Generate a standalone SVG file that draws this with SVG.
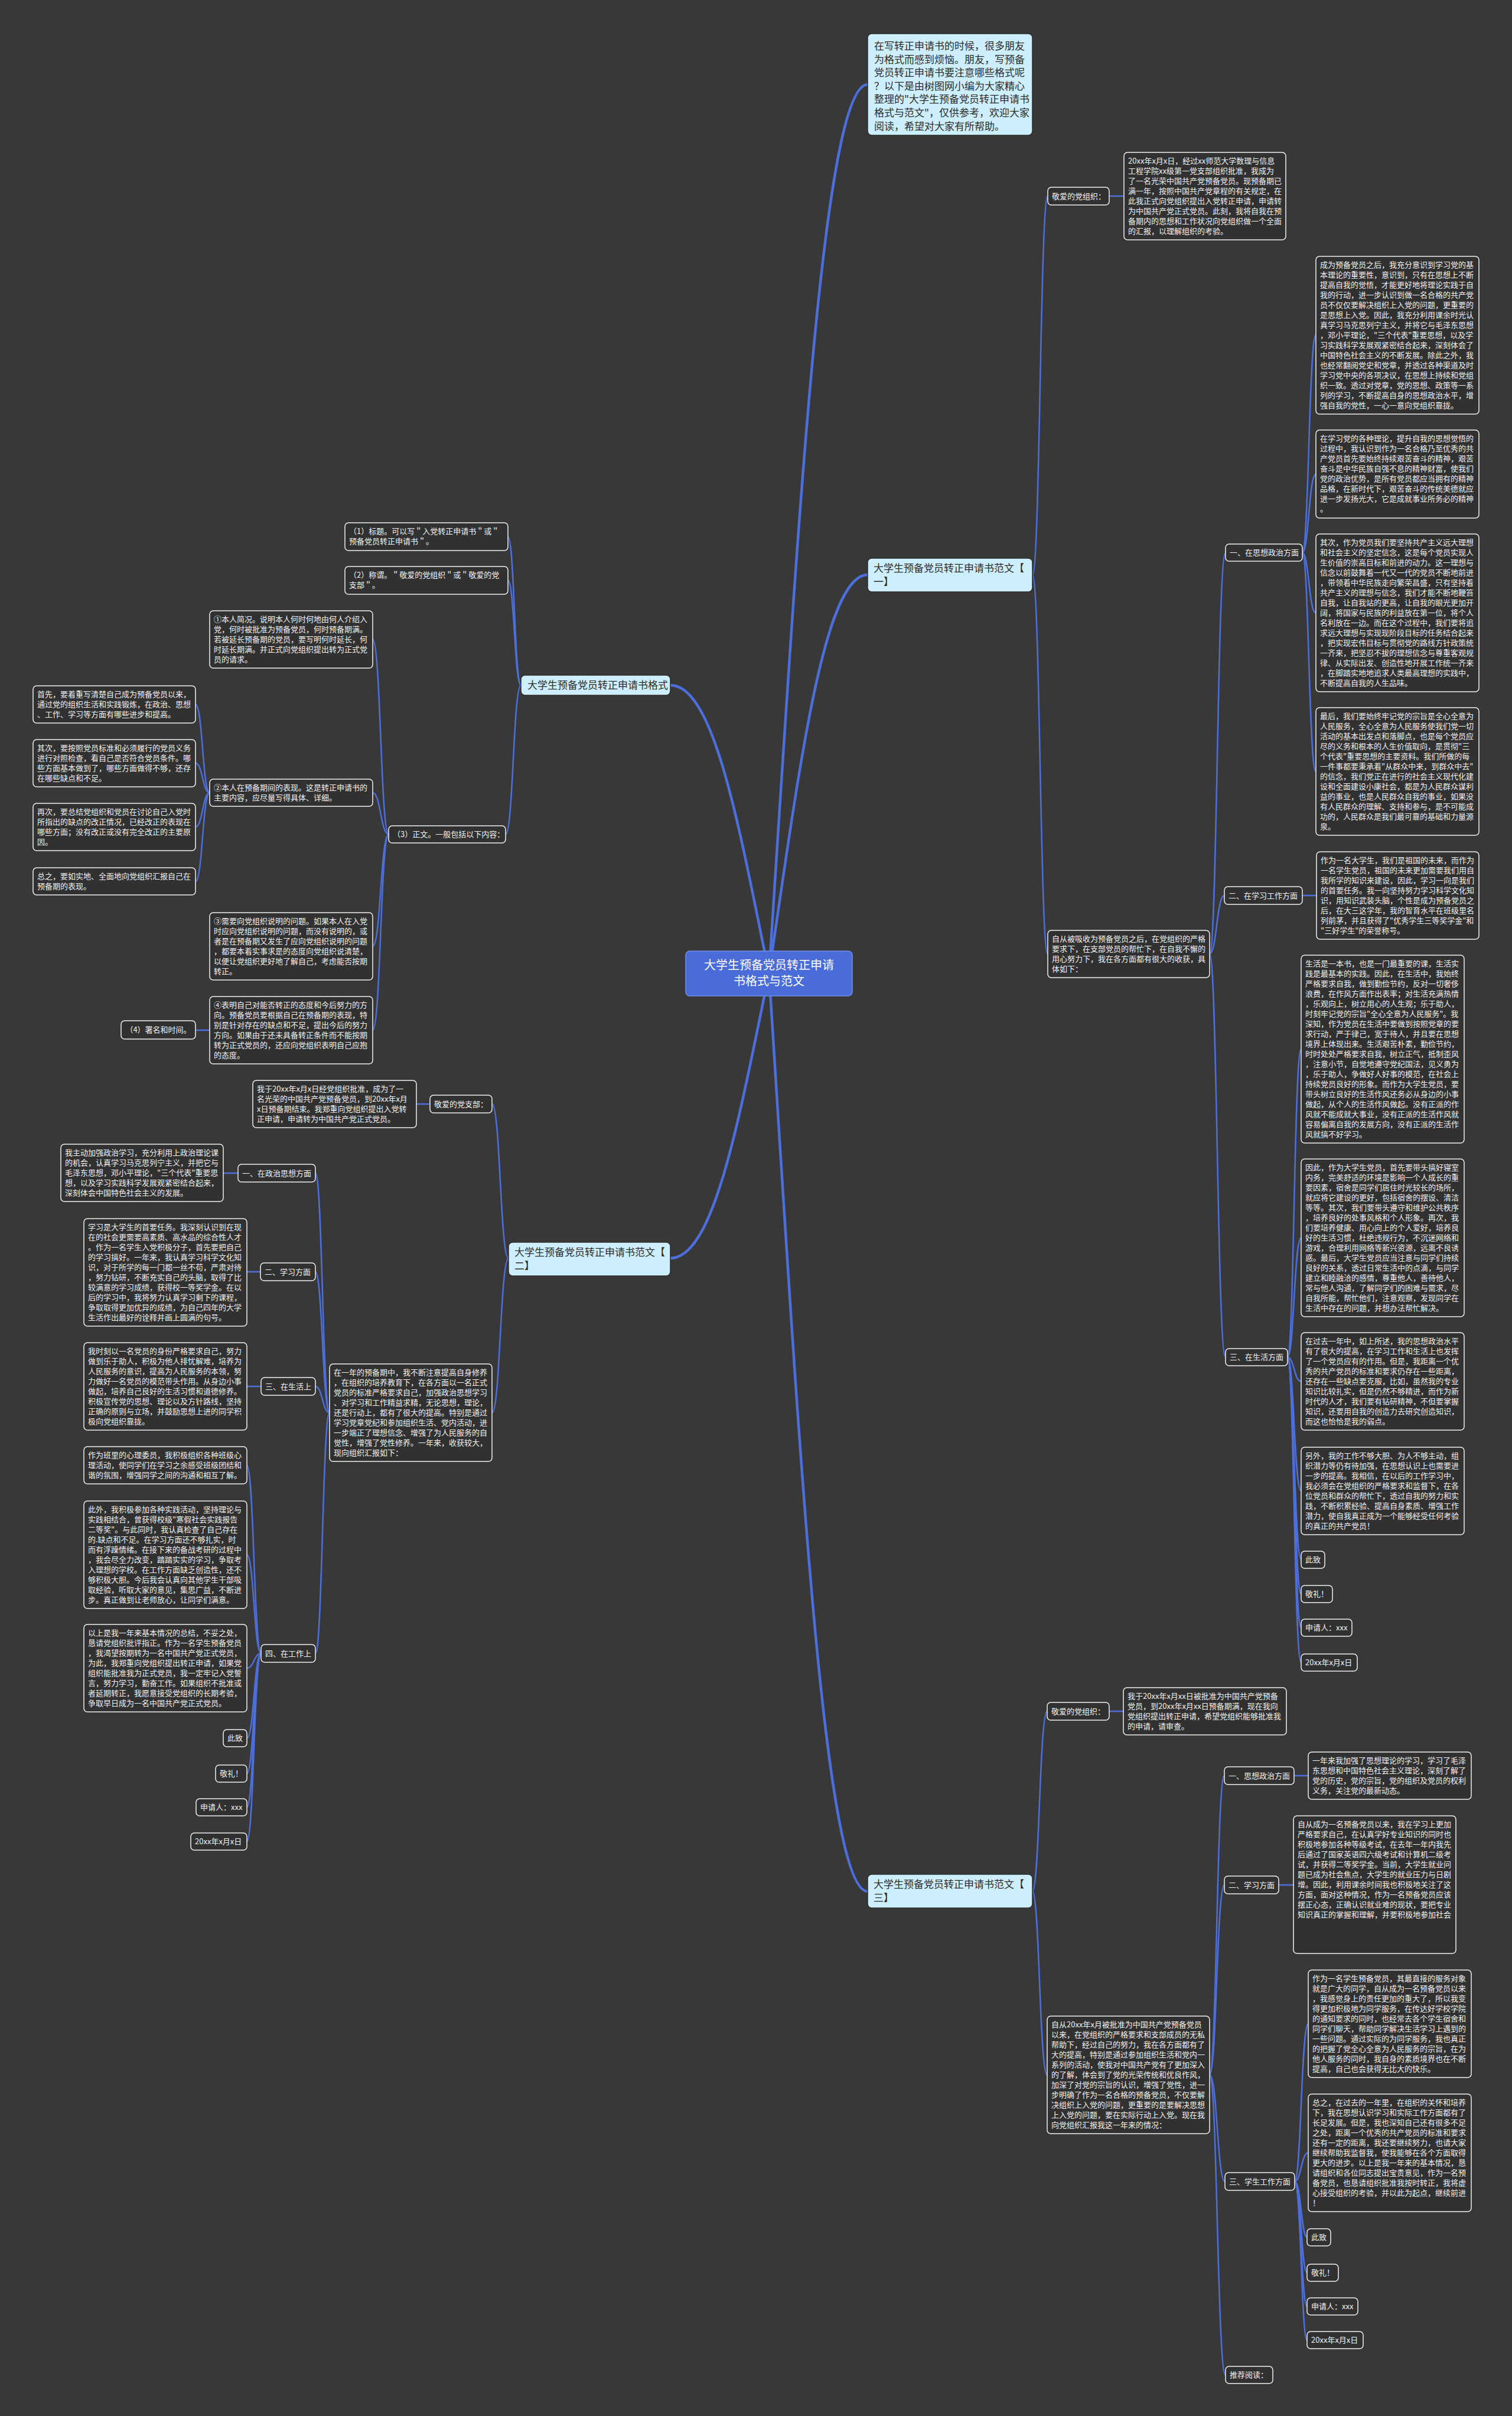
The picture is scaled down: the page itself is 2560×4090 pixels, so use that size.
<svg xmlns="http://www.w3.org/2000/svg" width="2560" height="4090" viewBox="0 0 2560 4090">
<style>
text{font-family:"Noto Sans CJK SC","Liberation Sans",sans-serif;font-size:13px;fill:#f2f2f2}
.n rect{fill:#313131;stroke:#f0f0f0;stroke-width:1.5}
.b rect{fill:#cdeffd;stroke:#2c2c2c;stroke-width:1.5}
.b text{font-size:17px;fill:#2b2b2b}
.ctr rect{fill:#4a6cd8;stroke:#6f8fe8;stroke-width:1.5}
.ctr text{font-size:20px;fill:#ffffff}
#connectors path{fill:none;stroke:#4d6fdc;stroke-width:2.5}
#connectors .m{stroke-width:4.5}
.ce{text-anchor:middle}
</style>
<rect x="0" y="0" width="2560" height="4090" fill="#383838"/>
<g id="connectors">
<path class="m" d="M1302 1648 C1351 896 1393 143 1469 143"/>
<path class="m" d="M1302 1648 C1352 1310 1394 973 1469 973"/>
<path class="m" d="M1302 1648 C1352 2425 1394 3202 1469 3202"/>
<path class="m" d="M1302 1648 C1252 1404 1210 1160 1135 1160"/>
<path class="m" d="M1302 1648 C1252 1889 1210 2130 1135 2130"/>
<path d="M1748 973.5 C1761 973.5 1761 332 1774 332"/>
<path d="M1748 973.5 C1761 973.5 1761 1615 1774 1615"/>
<path d="M1878 332 L1903 332"/>
<path d="M2048 1615 C2061 1615 2061 935.5 2075 935.5"/>
<path d="M2048 1615 C2060 1615 2060 1516 2073 1516"/>
<path d="M2048 1615 C2061 1615 2061 2297.5 2075 2297.5"/>
<path d="M2205 935.5 C2216 935.5 2216 567.5 2228 567.5"/>
<path d="M2205 935.5 C2216 935.5 2216 802.5 2228 802.5"/>
<path d="M2205 935.5 C2216 935.5 2216 1037.5 2228 1037.5"/>
<path d="M2205 935.5 C2216 935.5 2216 1306 2228 1306"/>
<path d="M2205 1516 L2229 1516"/>
<path d="M2180 2297.5 C2191 2297.5 2191 1776 2203 1776"/>
<path d="M2180 2297.5 C2191 2297.5 2191 2095.5 2203 2095.5"/>
<path d="M2180 2297.5 C2191 2297.5 2191 2338.5 2203 2338.5"/>
<path d="M2180 2297.5 C2191 2297.5 2191 2524 2203 2524"/>
<path d="M2180 2297.5 C2191 2297.5 2191 2640.5 2203 2640.5"/>
<path d="M2180 2297.5 C2191 2297.5 2191 2698.5 2203 2698.5"/>
<path d="M2180 2297.5 C2191 2297.5 2191 2755.5 2203 2755.5"/>
<path d="M2180 2297.5 C2191 2297.5 2191 2814.5 2203 2814.5"/>
<path d="M1748 3201.5 C1760 3201.5 1760 2897 1773 2897"/>
<path d="M1748 3201.5 C1760 3201.5 1760 3512.5 1773 3512.5"/>
<path d="M1878 2897 L1902 2897"/>
<path d="M2048 3512.5 C2060 3512.5 2060 3006 2073 3006"/>
<path d="M2048 3512.5 C2060 3512.5 2060 3191 2073 3191"/>
<path d="M2048 3512.5 C2061 3512.5 2061 3693 2074 3693"/>
<path d="M2048 3512.5 C2061 3512.5 2061 4020.5 2075 4020.5"/>
<path d="M2191 3006 L2215 3006"/>
<path d="M2165 3191 L2190 3191"/>
<path d="M2192 3693 C2203 3693 2203 3426 2215 3426"/>
<path d="M2192 3693 C2203 3693 2203 3644.5 2215 3644.5"/>
<path d="M2192 3693 C2203 3693 2203 3787.5 2213 3787.5"/>
<path d="M2192 3693 C2203 3693 2203 3847.5 2213 3847.5"/>
<path d="M2192 3693 C2203 3693 2203 3904.5 2213 3904.5"/>
<path d="M2192 3693 C2203 3693 2203 3961.5 2213 3961.5"/>
<path d="M882 1160 C871 1160 871 908.5 860 908.5"/>
<path d="M882 1160 C871 1160 871 982.5 860 982.5"/>
<path d="M882 1160 C869 1160 869 1412.5 856 1412.5"/>
<path d="M658 1412.5 C644.5 1412.5 644.5 1082.5 631 1082.5"/>
<path d="M658 1412.5 C644.5 1412.5 644.5 1342 631 1342"/>
<path d="M658 1412.5 C644.5 1412.5 644.5 1602 631 1602"/>
<path d="M658 1412.5 C644.5 1412.5 644.5 1744 631 1744"/>
<path d="M355 1342 C343 1342 343 1192.5 331 1192.5"/>
<path d="M355 1342 C343 1342 343 1292 331 1292"/>
<path d="M355 1342 C343 1342 343 1400 331 1400"/>
<path d="M355 1342 C343 1342 343 1492 331 1492"/>
<path d="M355 1744 L331 1744"/>
<path d="M861 2130.5 C847 2130.5 847 1869 833 1869"/>
<path d="M861 2130.5 C847 2130.5 847 2391.5 833 2391.5"/>
<path d="M728 1869 L705 1869"/>
<path d="M558 2391.5 C546 2391.5 546 1986 534 1986"/>
<path d="M558 2391.5 C546 2391.5 546 2153 534 2153"/>
<path d="M558 2391.5 C546 2391.5 546 2347 534 2347"/>
<path d="M558 2391.5 C546 2391.5 546 2799 534 2799"/>
<path d="M403 1986 L378 1986"/>
<path d="M441 2153 L418 2153"/>
<path d="M442 2347 L418 2347"/>
<path d="M442 2799 C430 2799 430 2480.5 418 2480.5"/>
<path d="M442 2799 C430 2799 430 2632 418 2632"/>
<path d="M442 2799 C430 2799 430 2824 418 2824"/>
<path d="M442 2799 C430 2799 430 2942.5 418 2942.5"/>
<path d="M442 2799 C430 2799 430 3002.5 418 3002.5"/>
<path d="M442 2799 C430 2799 430 3059.5 418 3059.5"/>
<path d="M442 2799 C430 2799 430 3117.5 418 3117.5"/>
</g>

<g id="center" class="ctr"><rect x="1161" y="1610" width="282" height="76" rx="7"/><text class="ce" x="1302" y="1641">大学生预备党员转正申请</text><text class="ce" x="1302" y="1668">书格式与范文</text></g>

<g id="intro" class="b"><rect x="1469" y="57" width="279" height="172" rx="7"/><text x="1480" y="84"><tspan x="1480" dy="0">在写转正申请书的时候，很多朋友</tspan><tspan x="1480" dy="22.6">为格式而感到烦恼。朋友，写预备</tspan><tspan x="1480" dy="22.6">党员转正申请书要注意哪些格式呢</tspan><tspan x="1480" dy="22.6">？以下是由树图网小编为大家精心</tspan><tspan x="1480" dy="22.6">整理的"大学生预备党员转正申请书</tspan><tspan x="1480" dy="22.6">格式与范文"，仅供参考，欢迎大家</tspan><tspan x="1480" dy="22.6">阅读，希望对大家有所帮助。</tspan></text></g>

<g id="branch1" class="b"><rect x="1469" y="945" width="279" height="57" rx="7"/><text x="1479" y="968"><tspan x="1479" dy="0">大学生预备党员转正申请书范文【</tspan><tspan x="1479" dy="23">一】</tspan></text></g>
<g id="branch3" class="b"><rect x="1469" y="3173" width="279" height="57" rx="7"/><text x="1479" y="3196"><tspan x="1479" dy="0">大学生预备党员转正申请书范文【</tspan><tspan x="1479" dy="23">三】</tspan></text></g>
<g id="branchFormat" class="b"><rect x="882" y="1143" width="253" height="34" rx="7"/><text x="893" y="1166">大学生预备党员转正申请书格式</text></g>
<g id="branch2" class="b"><rect x="861" y="2103" width="274" height="57" rx="7"/><text x="871" y="2126"><tspan x="871" dy="0">大学生预备党员转正申请书范文【</tspan><tspan x="871" dy="23">二】</tspan></text></g>

<!-- Section 1 -->
<g id="s1-dear" class="n"><rect x="1774" y="317" width="104" height="30" rx="6"/><text x="1781" y="336.5">敬爱的党组织：</text></g>
<g id="s1-dear-text" class="n"><rect x="1903" y="258" width="274" height="148" rx="6"/><text x="1910" y="277"><tspan x="1910" dy="0">20xx年x月x日，经过xx师范大学数理与信息</tspan><tspan x="1910" dy="17">工程学院xx级第一党支部组织批准，我成为</tspan><tspan x="1910" dy="17">了一名光荣中国共产党预备党员。现预备期已</tspan><tspan x="1910" dy="17">满一年，按照中国共产党章程的有关规定，在</tspan><tspan x="1910" dy="17">此我正式向党组织提出入党转正申请，申请转</tspan><tspan x="1910" dy="17">为中国共产党正式党员。此刻，我将自我在预</tspan><tspan x="1910" dy="17">备期内的思想和工作状况向党组织做一个全面</tspan><tspan x="1910" dy="17">的汇报，以理解组织的考验。</tspan></text></g>
<g id="s1-since" class="n"><rect x="1774" y="1575" width="274" height="80" rx="6"/><text x="1781" y="1594"><tspan x="1781" dy="0">自从被吸收为预备党员之后，在党组织的严格</tspan><tspan x="1781" dy="17">要求下，在支部党员的帮忙下，在自我不懈的</tspan><tspan x="1781" dy="17">用心努力下，我在各方面都有很大的收获，具</tspan><tspan x="1781" dy="17">体如下：</tspan></text></g>
<g id="s1-p1" class="n"><rect x="2075" y="921" width="130" height="29" rx="6"/><text x="2082" y="940">一、在思想政治方面</text></g>
<g id="s1-a" class="n"><rect x="2228" y="434" width="276" height="267" rx="6"/><text x="2235" y="453"><tspan x="2235" dy="0">成为预备党员之后，我充分意识到学习党的基</tspan><tspan x="2235" dy="17">本理论的重要性，意识到，只有在思想上不断</tspan><tspan x="2235" dy="17">提高自我的觉悟，才能更好地将理论实践于自</tspan><tspan x="2235" dy="17">我的行动，进一步认识到做一名合格的共产党</tspan><tspan x="2235" dy="17">员不仅仅要解决组织上入党的问题，更重要的</tspan><tspan x="2235" dy="17">是思想上入党。因此，我充分利用课余时光认</tspan><tspan x="2235" dy="17">真学习马克思列宁主义，并将它与毛泽东思想</tspan><tspan x="2235" dy="17">，邓小平理论，"三个代表"重要思想，以及学</tspan><tspan x="2235" dy="17">习实践科学发展观紧密结合起来，深刻体会了</tspan><tspan x="2235" dy="17">中国特色社会主义的不断发展。除此之外，我</tspan><tspan x="2235" dy="17">也经常翻阅党史和党章，并透过各种渠道及时</tspan><tspan x="2235" dy="17">学习党中央的各项决议，在思想上持续和党组</tspan><tspan x="2235" dy="17">织一致。透过对党章，党的思想、政策等一系</tspan><tspan x="2235" dy="17">列的学习，不断提高自身的思想政治水平，增</tspan><tspan x="2235" dy="17">强自我的党性，一心一意向党组织靠拢。</tspan></text></g>
<g id="s1-b" class="n"><rect x="2228" y="728" width="276" height="149" rx="6"/><text x="2235" y="747"><tspan x="2235" dy="0">在学习党的各种理论，提升自我的思想觉悟的</tspan><tspan x="2235" dy="17">过程中，我认识到作为一名合格乃至优秀的共</tspan><tspan x="2235" dy="17">产党员首先要始终持续艰苦奋斗的精神，艰苦</tspan><tspan x="2235" dy="17">奋斗是中华民族自强不息的精神财富，使我们</tspan><tspan x="2235" dy="17">党的政治优势，是所有党员都应当拥有的精神</tspan><tspan x="2235" dy="17">品格，在新时代下，艰苦奋斗的传统美德就应</tspan><tspan x="2235" dy="17">进一步发扬光大，它是成就事业所务必的精神</tspan><tspan x="2235" dy="17">。</tspan></text></g>
<g id="s1-c" class="n"><rect x="2228" y="904" width="276" height="267" rx="6"/><text x="2235" y="923"><tspan x="2235" dy="0">其次，作为党员我们要坚持共产主义远大理想</tspan><tspan x="2235" dy="17">和社会主义的坚定信念，这是每个党员实现人</tspan><tspan x="2235" dy="17">生价值的崇高目标和前进的动力。这一理想与</tspan><tspan x="2235" dy="17">信念以前鼓舞着一代又一代的党员不断地前进</tspan><tspan x="2235" dy="17">，带领着中华民族走向繁荣昌盛，只有坚持着</tspan><tspan x="2235" dy="17">共产主义的理想与信念，我们才能不断地鞭笞</tspan><tspan x="2235" dy="17">自我，让自我站的更高，让自我的眼光更加开</tspan><tspan x="2235" dy="17">阔，将国家与民族的利益放在第一位，将个人</tspan><tspan x="2235" dy="17">名利放在一边。而在这个过程中，我们要将追</tspan><tspan x="2235" dy="17">求远大理想与实现现阶段目标的任务结合起来</tspan><tspan x="2235" dy="17">，把实现宏伟目标与贯彻党的路线方针政策统</tspan><tspan x="2235" dy="17">一齐来，把坚忍不拔的理想信念与尊重客观规</tspan><tspan x="2235" dy="17">律、从实际出发、创造性地开展工作统一齐来</tspan><tspan x="2235" dy="17">，在脚踏实地地追求人类最高理想的实践中，</tspan><tspan x="2235" dy="17">不断提高自我的人生品味。</tspan></text></g>
<g id="s1-d" class="n"><rect x="2228" y="1198" width="276" height="216" rx="6"/><text x="2235" y="1217"><tspan x="2235" dy="0">最后，我们要始终牢记党的宗旨是全心全意为</tspan><tspan x="2235" dy="17">人民服务，全心全意为人民服务使我们党一切</tspan><tspan x="2235" dy="17">活动的基本出发点和落脚点，也是每个党员应</tspan><tspan x="2235" dy="17">尽的义务和根本的人生价值取向，是贯彻"三</tspan><tspan x="2235" dy="17">个代表"重要思想的主要资料。我们所做的每</tspan><tspan x="2235" dy="17">一件事都要秉承着"从群众中来，到群众中去"</tspan><tspan x="2235" dy="17">的信念，我们党正在进行的社会主义现代化建</tspan><tspan x="2235" dy="17">设和全面建设小康社会，都是为人民群众谋利</tspan><tspan x="2235" dy="17">益的事业，也是人民群众自我的事业，如果没</tspan><tspan x="2235" dy="17">有人民群众的理解、支持和参与，是不可能成</tspan><tspan x="2235" dy="17">功的，人民群众是我们最可靠的基础和力量源</tspan><tspan x="2235" dy="17">泉。</tspan></text></g>
<g id="s1-p2" class="n"><rect x="2073" y="1501" width="132" height="30" rx="6"/><text x="2080" y="1520.5">二、在学习工作方面</text></g>
<g id="s1-study" class="n"><rect x="2229" y="1442" width="275" height="148" rx="6"/><text x="2236" y="1461"><tspan x="2236" dy="0">作为一名大学生，我们是祖国的未来，而作为</tspan><tspan x="2236" dy="17">一名学生党员，祖国的未来更加需要我们用自</tspan><tspan x="2236" dy="17">我所学的知识来建设，因此，学习一向是我们</tspan><tspan x="2236" dy="17">的首要任务。我一向坚持努力学习科学文化知</tspan><tspan x="2236" dy="17">识，用知识武装头脑，个性是成为预备党员之</tspan><tspan x="2236" dy="17">后，在大三这学年，我的智育水平在班级里名</tspan><tspan x="2236" dy="17">列前茅，并且获得了"优秀学生三等奖学金"和</tspan><tspan x="2236" dy="17">"三好学生"的荣誉称号。</tspan></text></g>
<g id="s1-p3" class="n"><rect x="2075" y="2283" width="105" height="29" rx="6"/><text x="2082" y="2302">三、在生活方面</text></g>
<g id="s1-f" class="n"><rect x="2203" y="1617" width="276" height="318" rx="6"/><text x="2210" y="1636"><tspan x="2210" dy="0">生活是一本书，也是一门最重要的课，生活实</tspan><tspan x="2210" dy="17">践是最基本的实践。因此，在生活中，我始终</tspan><tspan x="2210" dy="17">严格要求自我，做到勤俭节约，反对一切奢侈</tspan><tspan x="2210" dy="17">浪费，在作风方面作出表率；对生活充满热情</tspan><tspan x="2210" dy="17">，乐观向上，树立用心的人生观；乐于助人，</tspan><tspan x="2210" dy="17">时刻牢记党的宗旨"全心全意为人民服务"。我</tspan><tspan x="2210" dy="17">深知，作为党员在生活中要做到按照党章的要</tspan><tspan x="2210" dy="17">求行动，严于律己，宽于待人，并且要在思想</tspan><tspan x="2210" dy="17">境界上体现出来。生活艰苦朴素，勤俭节约，</tspan><tspan x="2210" dy="17">时时处处严格要求自我，树立正气，抵制歪风</tspan><tspan x="2210" dy="17">，注意小节，自觉地遵守党纪国法，见义勇为</tspan><tspan x="2210" dy="17">，乐于助人，争做好人好事的模范，在社会上</tspan><tspan x="2210" dy="17">持续党员良好的形象。而作为大学生党员，要</tspan><tspan x="2210" dy="17">带头树立良好的生活作风还务必从身边的小事</tspan><tspan x="2210" dy="17">做起，从个人的生活作风做起。没有正派的作</tspan><tspan x="2210" dy="17">风就不能成就大事业，没有正派的生活作风就</tspan><tspan x="2210" dy="17">容易偏离自我的发展方向，没有正派的生活作</tspan><tspan x="2210" dy="17">风就搞不好学习。</tspan></text></g>
<g id="s1-g" class="n"><rect x="2203" y="1962" width="276" height="267" rx="6"/><text x="2210" y="1981"><tspan x="2210" dy="0">因此，作为大学生党员，首先要带头搞好寝室</tspan><tspan x="2210" dy="17">内务，完美舒适的环境是影响一个人成长的重</tspan><tspan x="2210" dy="17">要因素，宿舍是同学们居住时光较长的场所，</tspan><tspan x="2210" dy="17">就应将它建设的更好，包括宿舍的摆设、清洁</tspan><tspan x="2210" dy="17">等等。其次，我们要带头遵守和维护公共秩序</tspan><tspan x="2210" dy="17">，培养良好的处事风格和个人形象。再次，我</tspan><tspan x="2210" dy="17">们要培养健康、用心向上的个人爱好，培养良</tspan><tspan x="2210" dy="17">好的生活习惯，杜绝违规行为，不沉迷网络和</tspan><tspan x="2210" dy="17">游戏，合理利用网络等新兴资源，远离不良诱</tspan><tspan x="2210" dy="17">惑。最后，大学生党员应当注意与同学们持续</tspan><tspan x="2210" dy="17">良好的关系，透过日常生活中的点滴，与同学</tspan><tspan x="2210" dy="17">建立和睦融洽的感情，尊重他人，善待他人，</tspan><tspan x="2210" dy="17">常与他人沟通，了解同学们的困难与需求，尽</tspan><tspan x="2210" dy="17">自我所能，帮忙他们，注意观察，发现同学在</tspan><tspan x="2210" dy="17">生活中存在的问题，并想办法帮忙解决。</tspan></text></g>
<g id="s1-h" class="n"><rect x="2203" y="2256" width="276" height="165" rx="6"/><text x="2210" y="2275"><tspan x="2210" dy="0">在过去一年中，如上所述，我的思想政治水平</tspan><tspan x="2210" dy="17">有了很大的提高，在学习工作和生活上也发挥</tspan><tspan x="2210" dy="17">了一个党员应有的作用。但是，我距离一个优</tspan><tspan x="2210" dy="17">秀的共产党员的标准和要求仍存在一些距离，</tspan><tspan x="2210" dy="17">还存在一些缺点要克服，比如，虽然我的专业</tspan><tspan x="2210" dy="17">知识比较扎实，但是仍然不够精进，而作为新</tspan><tspan x="2210" dy="17">时代的人才，我们要有钻研精神，不但要掌握</tspan><tspan x="2210" dy="17">知识，还要用自我的创造力去研究创造知识，</tspan><tspan x="2210" dy="17">而这也恰恰是我的弱点。</tspan></text></g>
<g id="s1-i" class="n"><rect x="2203" y="2450" width="276" height="148" rx="6"/><text x="2210" y="2469"><tspan x="2210" dy="0">另外，我的工作不够大胆、为人不够主动，组</tspan><tspan x="2210" dy="17">织潜力等仍有待加强，在思想认识上也需要进</tspan><tspan x="2210" dy="17">一步的提高。我相信，在以后的工作学习中，</tspan><tspan x="2210" dy="17">我必须会在党组织的严格要求和监督下，在各</tspan><tspan x="2210" dy="17">位党员和群众的帮忙下，透过自我的努力和实</tspan><tspan x="2210" dy="17">践，不断积累经验、提高自身素质、增强工作</tspan><tspan x="2210" dy="17">潜力，使自我真正成为一个能够经受任何考验</tspan><tspan x="2210" dy="17">的真正的共产党员！</tspan></text></g>
<g id="s1-cz" class="n"><rect x="2203" y="2626" width="40" height="29" rx="6"/><text x="2210" y="2645">此致</text></g>
<g id="s1-jl" class="n"><rect x="2203" y="2684" width="53" height="29" rx="6"/><text x="2210" y="2703">敬礼！</text></g>
<g id="s1-sqr" class="n"><rect x="2203" y="2741" width="86" height="29" rx="6"/><text x="2210" y="2760">申请人：xxx</text></g>
<g id="s1-date" class="n"><rect x="2203" y="2800" width="95" height="29" rx="6"/><text x="2210" y="2819">20xx年x月x日</text></g>

<!-- Section 3 -->
<g id="s3-dear" class="n"><rect x="1773" y="2882" width="105" height="30" rx="6"/><text x="1780" y="2901.5">敬爱的党组织：</text></g>
<g id="s3-dear-text" class="n"><rect x="1902" y="2857" width="276" height="80" rx="6"/><text x="1909" y="2876"><tspan x="1909" dy="0">我于20xx年x月xx日被批准为中国共产党预备</tspan><tspan x="1909" dy="17">党员，到20xx年x月xx日预备期满，现在我向</tspan><tspan x="1909" dy="17">党组织提出转正申请，希望党组织能够批准我</tspan><tspan x="1909" dy="17">的申请，请审查。</tspan></text></g>
<g id="s3-since" class="n"><rect x="1773" y="3413" width="275" height="199" rx="6"/><text x="1780" y="3432"><tspan x="1780" dy="0">自从20xx年x月被批准为中国共产党预备党员</tspan><tspan x="1780" dy="17">以来，在党组织的严格要求和支部成员的无私</tspan><tspan x="1780" dy="17">帮助下，经过自己的努力，我在各方面都有了</tspan><tspan x="1780" dy="17">大的提高，特别是通过参加组织生活和党内一</tspan><tspan x="1780" dy="17">系列的活动，使我对中国共产党有了更加深入</tspan><tspan x="1780" dy="17">的了解，体会到了党的光荣传统和优良作风，</tspan><tspan x="1780" dy="17">加深了对党的宗旨的认识，增强了党性，进一</tspan><tspan x="1780" dy="17">步明确了作为一名合格的预备党员，不仅要解</tspan><tspan x="1780" dy="17">决组织上入党的问题，更重要的是要解决思想</tspan><tspan x="1780" dy="17">上入党的问题，要在实际行动上入党。现在我</tspan><tspan x="1780" dy="17">向党组织汇报我这一年来的情况：</tspan></text></g>
<g id="s3-p1" class="n"><rect x="2073" y="2991" width="118" height="30" rx="6"/><text x="2080" y="3010.5">一、思想政治方面</text></g>
<g id="s3-p1-text" class="n"><rect x="2215" y="2966" width="276" height="80" rx="6"/><text x="2222" y="2985"><tspan x="2222" dy="0">一年来我加强了思想理论的学习，学习了毛泽</tspan><tspan x="2222" dy="17">东思想和中国特色社会主义理论，深刻了解了</tspan><tspan x="2222" dy="17">党的历史，党的宗旨，党的组织及党员的权利</tspan><tspan x="2222" dy="17">义务，关注党的最新动态。</tspan></text></g>
<g id="s3-p2" class="n"><rect x="2073" y="3176" width="92" height="30" rx="6"/><text x="2080" y="3195.5">二、学习方面</text></g>
<g id="s3-p2-text" class="n"><rect x="2190" y="3074" width="275" height="233" rx="6"/><text x="2197" y="3093"><tspan x="2197" dy="0">自从成为一名预备党员以来，我在学习上更加</tspan><tspan x="2197" dy="17">严格要求自己，在认真学好专业知识的同时也</tspan><tspan x="2197" dy="17">积极地参加各种等级考试，在去年一年内我先</tspan><tspan x="2197" dy="17">后通过了国家英语四六级考试和计算机二级考</tspan><tspan x="2197" dy="17">试，并获得二等奖学金。当前，大学生就业问</tspan><tspan x="2197" dy="17">题已成为社会焦点，大学生的就业压力与日剧</tspan><tspan x="2197" dy="17">增。因此，利用课余时间我也积极地关注了这</tspan><tspan x="2197" dy="17">方面，面对这种情况，作为一名预备党员应该</tspan><tspan x="2197" dy="17">摆正心态，正确认识就业难的现状，要把专业</tspan><tspan x="2197" dy="17">知识真正的掌握和理解，并要积极地参加社会</tspan></text></g>
<g id="s3-p3" class="n"><rect x="2074" y="3678" width="118" height="30" rx="6"/><text x="2081" y="3697.5">三、学生工作方面</text></g>
<g id="s3-serve" class="n"><rect x="2215" y="3335" width="276" height="182" rx="6"/><text x="2222" y="3354"><tspan x="2222" dy="0">作为一名学生预备党员，其最直接的服务对象</tspan><tspan x="2222" dy="17">就是广大的同学，自从成为一名预备党员以来</tspan><tspan x="2222" dy="17">，我感觉身上的责任更加的重大了，所以我变</tspan><tspan x="2222" dy="17">得更加积极地为同学服务，在传达好学校学院</tspan><tspan x="2222" dy="17">的通知要求的同时，也经常去各个学生宿舍和</tspan><tspan x="2222" dy="17">同学们聊天，帮助同学解决生活学习上遇到的</tspan><tspan x="2222" dy="17">一些问题。通过实际的为同学服务，我也真正</tspan><tspan x="2222" dy="17">的把握了党全心全意为人民服务的宗旨，在为</tspan><tspan x="2222" dy="17">他人服务的同时，我自身的素质境界也在不断</tspan><tspan x="2222" dy="17">提高，自己也会获得无比大的快乐。</tspan></text></g>
<g id="s3-sum" class="n"><rect x="2215" y="3545" width="276" height="199" rx="6"/><text x="2222" y="3564"><tspan x="2222" dy="0">总之，在过去的一年里，在组织的关怀和培养</tspan><tspan x="2222" dy="17">下，我在思想认识学习和实际工作方面都有了</tspan><tspan x="2222" dy="17">长足发展。但是，我也深知自己还有很多不足</tspan><tspan x="2222" dy="17">之处，距离一个优秀的共产党员的标准和要求</tspan><tspan x="2222" dy="17">还有一定的距离，我还要继续努力，也请大家</tspan><tspan x="2222" dy="17">继续帮助我监督我，使我能够在各个方面取得</tspan><tspan x="2222" dy="17">更大的进步。以上是我一年来的基本情况，恳</tspan><tspan x="2222" dy="17">请组织和各位同志提出宝贵意见，作为一名预</tspan><tspan x="2222" dy="17">备党员，也恳请组织批准我按时转正，我将虚</tspan><tspan x="2222" dy="17">心接受组织的考验，并以此为起点，继续前进</tspan><tspan x="2222" dy="17">！</tspan></text></g>
<g id="s3-cz" class="n"><rect x="2213" y="3773" width="40" height="29" rx="6"/><text x="2220" y="3792">此致</text></g>
<g id="s3-jl" class="n"><rect x="2213" y="3833" width="53" height="29" rx="6"/><text x="2220" y="3852">敬礼！</text></g>
<g id="s3-sqr" class="n"><rect x="2213" y="3890" width="86" height="29" rx="6"/><text x="2220" y="3909">申请人：xxx</text></g>
<g id="s3-date" class="n"><rect x="2213" y="3947" width="95" height="29" rx="6"/><text x="2220" y="3966">20xx年x月x日</text></g>
<g id="s3-more" class="n"><rect x="2075" y="4006" width="80" height="29" rx="6"/><text x="2082" y="4025">推荐阅读：</text></g>

<!-- Format branch -->
<g id="f-1" class="n"><rect x="584" y="885" width="276" height="47" rx="6"/><text x="591" y="904"><tspan x="591" dy="0">（1）标题。可以写＂入党转正申请书＂或＂</tspan><tspan x="591" dy="17">预备党员转正申请书＂。</tspan></text></g>
<g id="f-2" class="n"><rect x="584" y="959" width="276" height="47" rx="6"/><text x="591" y="978"><tspan x="591" dy="0">（2）称谓。＂敬爱的党组织＂或＂敬爱的党</tspan><tspan x="591" dy="17">支部＂。</tspan></text></g>
<g id="f-3" class="n"><rect x="658" y="1398" width="198" height="29" rx="6"/><text x="665" y="1417">（3）正文。一般包括以下内容：</text></g>
<g id="f-3a" class="n"><rect x="355" y="1034" width="276" height="97" rx="6"/><text x="362" y="1053"><tspan x="362" dy="0">①本人简况。说明本人何时何地由何人介绍入</tspan><tspan x="362" dy="17">党，何时被批准为预备党员，何时预备期满。</tspan><tspan x="362" dy="17">若被延长预备期的党员，要写明何时延长，何</tspan><tspan x="362" dy="17">时延长期满。并正式向党组织提出转为正式党</tspan><tspan x="362" dy="17">员的请求。</tspan></text></g>
<g id="f-3b" class="n"><rect x="355" y="1319" width="276" height="46" rx="6"/><text x="362" y="1338"><tspan x="362" dy="0">②本人在预备期间的表现。这是转正申请书的</tspan><tspan x="362" dy="17">主要内容，应尽量写得具体、详细。</tspan></text></g>
<g id="f-3c" class="n"><rect x="355" y="1545" width="276" height="114" rx="6"/><text x="362" y="1564"><tspan x="362" dy="0">③需要向党组织说明的问题。如果本人在入党</tspan><tspan x="362" dy="17">时应向党组织说明的问题，而没有说明的，或</tspan><tspan x="362" dy="17">者是在预备期又发生了应向党组织说明的问题</tspan><tspan x="362" dy="17">，都要本着实事求是的态度向党组织说清楚，</tspan><tspan x="362" dy="17">以便让党组织更好地了解自己，考虑能否按期</tspan><tspan x="362" dy="17">转正。</tspan></text></g>
<g id="f-3d" class="n"><rect x="355" y="1687" width="276" height="114" rx="6"/><text x="362" y="1706"><tspan x="362" dy="0">④表明自己对能否转正的态度和今后努力的方</tspan><tspan x="362" dy="17">向。预备党员要根据自己在预备期的表现，特</tspan><tspan x="362" dy="17">别是针对存在的缺点和不足，提出今后的努力</tspan><tspan x="362" dy="17">方向。如果由于还未具备转正条件而不能按期</tspan><tspan x="362" dy="17">转为正式党员的，还应向党组织表明自己应抱</tspan><tspan x="362" dy="17">的态度。</tspan></text></g>
<g id="f-4" class="n"><rect x="205" y="1728" width="126" height="31" rx="6"/><text class="ce" x="268" y="1748">（4）署名和时间。</text></g>
<g id="f-b1" class="n"><rect x="56" y="1161" width="275" height="63" rx="6"/><text x="63" y="1180"><tspan x="63" dy="0">首先，要着重写清楚自己成为预备党员以来，</tspan><tspan x="63" dy="17">通过党的组织生活和实践锻炼，在政治、思想</tspan><tspan x="63" dy="17">、工作、学习等方面有哪些进步和提高。</tspan></text></g>
<g id="f-b2" class="n"><rect x="56" y="1252" width="275" height="80" rx="6"/><text x="63" y="1271"><tspan x="63" dy="0">其次，要按照党员标准和必须履行的党员义务</tspan><tspan x="63" dy="17">进行对照检查，看自己是否符合党员条件。哪</tspan><tspan x="63" dy="17">些方面基本做到了，哪些方面做得不够，还存</tspan><tspan x="63" dy="17">在哪些缺点和不足。</tspan></text></g>
<g id="f-b3" class="n"><rect x="56" y="1360" width="275" height="80" rx="6"/><text x="63" y="1379"><tspan x="63" dy="0">再次，要总结党组织和党员在讨论自己入党时</tspan><tspan x="63" dy="17">所指出的缺点的改正情况，已经改正的表现在</tspan><tspan x="63" dy="17">哪些方面；没有改正或没有完全改正的主要原</tspan><tspan x="63" dy="17">因。</tspan></text></g>
<g id="f-b4" class="n"><rect x="56" y="1469" width="275" height="46" rx="6"/><text x="63" y="1488"><tspan x="63" dy="0">总之，要如实地、全面地向党组织汇报自己在</tspan><tspan x="63" dy="17">预备期的表现。</tspan></text></g>

<!-- Section 2 -->
<g id="s2-dear" class="n"><rect x="728" y="1854" width="105" height="30" rx="6"/><text x="735" y="1873.5">敬爱的党支部：</text></g>
<g id="s2-dear-text" class="n"><rect x="428" y="1829" width="277" height="80" rx="6"/><text x="435" y="1848"><tspan x="435" dy="0">我于20xx年x月x日经党组织批准，成为了一</tspan><tspan x="435" dy="17">名光荣的中国共产党预备党员，到20xx年x月</tspan><tspan x="435" dy="17">x日预备期结束。我郑重向党组织提出入党转</tspan><tspan x="435" dy="17">正申请，申请转为中国共产党正式党员。</tspan></text></g>
<g id="s2-year" class="n"><rect x="558" y="2309" width="275" height="165" rx="6"/><text x="565" y="2328"><tspan x="565" dy="0">在一年的预备期中，我不断注意提高自身修养</tspan><tspan x="565" dy="17">，在组织的培养教育下，在各方面以一名正式</tspan><tspan x="565" dy="17">党员的标准严格要求自己，加强政治思想学习</tspan><tspan x="565" dy="17">、对学习和工作精益求精，无论思想，理论，</tspan><tspan x="565" dy="17">还是行动上，都有了很大的提高。特别是通过</tspan><tspan x="565" dy="17">学习党章党纪和参加组织生活、党内活动，进</tspan><tspan x="565" dy="17">一步端正了理想信念、增强了为人民服务的自</tspan><tspan x="565" dy="17">觉性，增强了党性修养。一年来，收获较大，</tspan><tspan x="565" dy="17">现向组织汇报如下：</tspan></text></g>
<g id="s2-p1" class="n"><rect x="403" y="1971" width="131" height="30" rx="6"/><text x="410" y="1990.5">一、在政治思想方面</text></g>
<g id="s2-p1-text" class="n"><rect x="103" y="1937" width="275" height="97" rx="6"/><text x="110" y="1956"><tspan x="110" dy="0">我主动加强政治学习，充分利用上政治理论课</tspan><tspan x="110" dy="17">的机会，认真学习马克思列宁主义，并把它与</tspan><tspan x="110" dy="17">毛泽东思想，邓小平理论，"三个代表"重要思</tspan><tspan x="110" dy="17">想，以及学习实践科学发展观紧密结合起来，</tspan><tspan x="110" dy="17">深刻体会中国特色社会主义的发展。</tspan></text></g>
<g id="s2-p2" class="n"><rect x="441" y="2138" width="93" height="30" rx="6"/><text x="448" y="2157.5">二、学习方面</text></g>
<g id="s2-p2-text" class="n"><rect x="142" y="2063" width="276" height="182" rx="6"/><text x="149" y="2082"><tspan x="149" dy="0">学习是大学生的首要任务。我深刻认识到在现</tspan><tspan x="149" dy="17">在的社会更需要高素质、高水品的综合性人才</tspan><tspan x="149" dy="17">。作为一名学生入党积极分子，首先要把自己</tspan><tspan x="149" dy="17">的学习搞好。一年来，我认真学习科学文化知</tspan><tspan x="149" dy="17">识，对于所学的每一门都一丝不苟，严肃对待</tspan><tspan x="149" dy="17">，努力钻研，不断充实自己的头脑，取得了比</tspan><tspan x="149" dy="17">较满意的学习成绩，获得校一等奖学金。在以</tspan><tspan x="149" dy="17">后的学习中，我将努力认真学习剩下的课程，</tspan><tspan x="149" dy="17">争取取得更加优异的成绩，为自己四年的大学</tspan><tspan x="149" dy="17">生活作出最好的诠释并画上圆满的句号。</tspan></text></g>
<g id="s2-p3" class="n"><rect x="442" y="2332" width="92" height="30" rx="6"/><text x="449" y="2351.5">三、在生活上</text></g>
<g id="s2-p3-text" class="n"><rect x="142" y="2273" width="276" height="148" rx="6"/><text x="149" y="2292"><tspan x="149" dy="0">我时刻以一名党员的身份严格要求自己，努力</tspan><tspan x="149" dy="17">做到乐于助人，积极为他人排忧解难，培养为</tspan><tspan x="149" dy="17">人民服务的意识，提高为人民服务的本领，努</tspan><tspan x="149" dy="17">力做好一名党员的模范带头作用。从身边小事</tspan><tspan x="149" dy="17">做起，培养自己良好的生活习惯和道德修养。</tspan><tspan x="149" dy="17">积极宣传党的思想、理论以及方针路线，坚持</tspan><tspan x="149" dy="17">正确的原则与立场，并鼓励思想上进的同学积</tspan><tspan x="149" dy="17">极向党组织靠拢。</tspan></text></g>
<g id="s2-p4" class="n"><rect x="442" y="2784" width="92" height="30" rx="6"/><text x="449" y="2803.5">四、在工作上</text></g>
<g id="s2-w1" class="n"><rect x="142" y="2449" width="276" height="63" rx="6"/><text x="149" y="2468"><tspan x="149" dy="0">作为班里的心理委员，我积极组织各种班级心</tspan><tspan x="149" dy="17">理活动，使同学们在学习之余感受班级团结和</tspan><tspan x="149" dy="17">谐的氛围，增强同学之间的沟通和相互了解。</tspan></text></g>
<g id="s2-w2" class="n"><rect x="142" y="2541" width="276" height="182" rx="6"/><text x="149" y="2560"><tspan x="149" dy="0">此外，我积极参加各种实践活动，坚持理论与</tspan><tspan x="149" dy="17">实践相结合，曾获得校级"寒假社会实践报告</tspan><tspan x="149" dy="17">二等奖"。与此同时，我认真检查了自己存在</tspan><tspan x="149" dy="17">的.缺点和不足。在学习方面还不够扎实，时</tspan><tspan x="149" dy="17">而有浮躁情绪。在接下来的备战考研的过程中</tspan><tspan x="149" dy="17">，我会尽全力改变，踏踏实实的学习，争取考</tspan><tspan x="149" dy="17">入理想的学校。在工作方面缺乏创造性，还不</tspan><tspan x="149" dy="17">够积极大胆。今后我会认真向其他学生干部吸</tspan><tspan x="149" dy="17">取经验，听取大家的意见，集思广益，不断进</tspan><tspan x="149" dy="17">步。真正做到让老师放心，让同学们满意。</tspan></text></g>
<g id="s2-w3" class="n"><rect x="142" y="2750" width="276" height="148" rx="6"/><text x="149" y="2769"><tspan x="149" dy="0">以上是我一年来基本情况的总结，不妥之处，</tspan><tspan x="149" dy="17">恳请党组织批评指正。作为一名学生预备党员</tspan><tspan x="149" dy="17">，我渴望按期转为一名中国共产党正式党员，</tspan><tspan x="149" dy="17">为此，我郑重向党组织提出转正申请，如果党</tspan><tspan x="149" dy="17">组织能批准我为正式党员，我一定牢记入党誓</tspan><tspan x="149" dy="17">言，努力学习，勤奋工作。如果组织不批准或</tspan><tspan x="149" dy="17">者延期转正，我愿意接受党组织的长期考验，</tspan><tspan x="149" dy="17">争取早日成为一名中国共产党正式党员。</tspan></text></g>
<g id="s2-cz" class="n"><rect x="378" y="2928" width="40" height="29" rx="6"/><text x="385" y="2947">此致</text></g>
<g id="s2-jl" class="n"><rect x="365" y="2988" width="53" height="29" rx="6"/><text x="372" y="3007">敬礼！</text></g>
<g id="s2-sqr" class="n"><rect x="332" y="3045" width="86" height="29" rx="6"/><text x="339" y="3064">申请人：xxx</text></g>
<g id="s2-date" class="n"><rect x="323" y="3103" width="95" height="29" rx="6"/><text x="330" y="3122">20xx年x月x日</text></g>
</svg>
